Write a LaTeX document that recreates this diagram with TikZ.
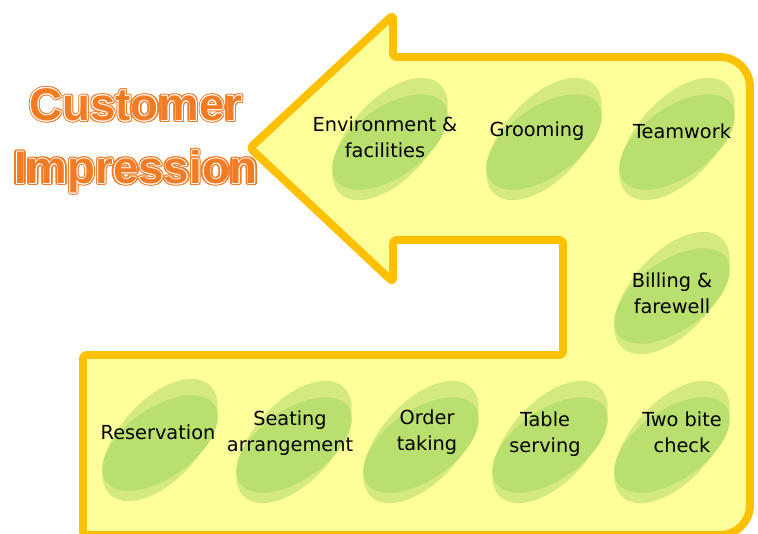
\documentclass[tikz,border=0pt]{standalone}
\usepackage{fontspec}
\usepackage[copies]{contour}
\usepackage{tikz}
\usetikzlibrary{positioning}
\newfontfamily\labelfont{DejaVu Sans}
\newfontfamily\cifont{Liberation Sans}
\definecolor{frameorange}{RGB}{255,192,0}
\definecolor{frameyellow}{RGB}{255,255,153}
\definecolor{bloblight}{RGB}{212,234,128}
\definecolor{blobdark}{RGB}{185,224,110}
\definecolor{ciorange}{RGB}{242,124,38}
\contournumber{10}
% orange letters with a thin white rim inside an orange edge
\newcommand{\ciword}[1]{\leavevmode\rlap{\contourlength{1.3pt}\contour{ciorange}{\textcolor{ciorange}{#1}}}\contourlength{0.45pt}\contour{white}{\textcolor{ciorange}{#1}}}
\tikzset{
    frame/.style={draw=frameorange, fill=frameyellow, line width=4.5pt, line join=round},
    blobouter/.style={fill=bloblight},
    blobinner/.style={fill=blobdark},
    steplabel/.style={font={\labelfont\fontsize{11}{15}\selectfont}, align=center, text=black, inner sep=1pt},
    titletext/.style={font={\cifont\bfseries\fontsize{26}{36}\selectfont}, align=center, inner sep=0pt}
}
\begin{document}
\begin{tikzpicture}[x=0.02cm, y=-0.02cm]
        \useasboundingbox (0,0) rectangle (758,534);

        % --- Big arrow frame ---
        \draw [frame, rounded corners=2pt] (250,148) -- (393,15) -- (393,57)
            [rounded corners=17pt] -- (750,57) -- (750,535)
            [rounded corners=2pt] -- (83,535) -- (83,355) -- (563,355) -- (563,240)
            -- (393,240) -- (393,282) -- cycle;

        % --- Steps: ellipse centre, text centre, text ---
        \foreach \nm/\ex/\ey/\tx/\ty/\txt in {
            env/390/141/385/137/{Environment \&\\facilities},
            groom/544/141/537/131/{Grooming},
            team/677/141/682/131/{Teamwork},
            bill/672/295/672/293/{Billing \&\\farewell},
            reserv/160/442/158/432/{Reservation},
            seat/294/444/290/433/{Seating\\arrangement},
            order/421/444/427/432/{Order\\taking},
            table/550/444/545/434/{Table\\serving},
            twobite/672/444/682/432/{Two bite\\check}}{
            \fill [blobouter, shift={(\ex,\ey-2)}, rotate=48] (0,0) ellipse (74 and 40);
            \fill [blobinner, shift={(\ex,\ey+1)}, yscale=0.78, rotate=48] (0,0) ellipse (74 and 40);
            \node (\nm) [steplabel] at (\tx,\ty) {\txt};
        }

        % --- Title ---
        \node (title) [titletext] at (136,142) {\ciword{Customer}\\\ciword{Impression}};
\end{tikzpicture}
\end{document}
